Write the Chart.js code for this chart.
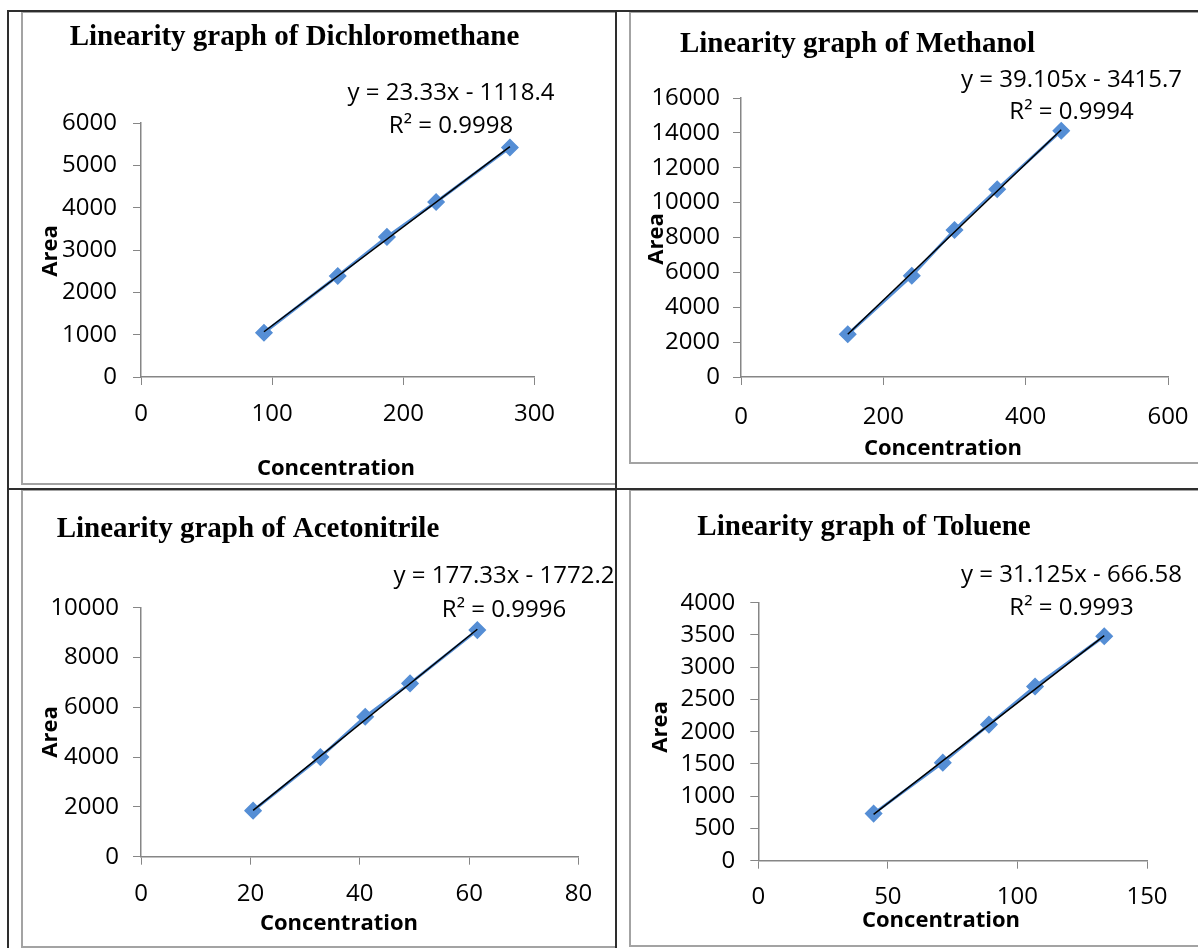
<!DOCTYPE html>
<html><head><meta charset="utf-8">
<script src="https://cdn.jsdelivr.net/npm/chart.js@4.4.1/dist/chart.umd.min.js"></script>
<style>
html,body{margin:0;padding:0;background:#fff;}
body{width:1198px;height:948px;position:relative;overflow:hidden;}
canvas{position:absolute;}
.gb{position:absolute;border:2px solid #a3a3a3;box-sizing:border-box;}
.bl{position:absolute;background:#2e2e2e;}
</style></head><body>
<div class="gb" style="left:21px;top:11px;width:596px;height:474px"></div>
<div class="gb" style="left:629px;top:11px;width:600px;height:453px"></div>
<div class="gb" style="left:21px;top:489px;width:596px;height:459px"></div>
<div class="gb" style="left:629px;top:489px;width:600px;height:458px"></div>
<canvas id="c1" width="593" height="471" style="left:22px;top:12px"></canvas>
<canvas id="c2" width="620" height="451" style="left:630px;top:12px"></canvas>
<canvas id="c3" width="593" height="457" style="left:22px;top:490px"></canvas>
<canvas id="c4" width="620" height="456" style="left:630px;top:490px"></canvas>
<div class="bl" style="left:7px;top:10px;width:2px;height:938px"></div>
<div class="bl" style="left:7px;top:10px;width:1191px;height:2px"></div>
<div class="bl" style="left:615px;top:10px;width:2px;height:938px"></div>
<div class="bl" style="left:7px;top:488px;width:1191px;height:2px"></div>
<script>
// ---- data ----
const titles = ['Linearity graph of Dichloromethane','Linearity graph of Methanol','Linearity graph of Acetonitrile','Linearity graph of Toluene'];
const xAxisTitle = 'Concentration';
const yAxisTitle = 'Area';

const dcmConc = [93.75, 150, 187.5, 225, 281.25];
const dcmArea = [1045, 2385, 3310, 4135, 5420];
const meoConc = [150, 240, 300, 360, 450];
const meoArea = [2450, 5810, 8430, 10765, 14125];
const acnConc = [20.5, 32.8, 41, 49.2, 61.5];
const acnArea = [1850, 4000, 5620, 6960, 9100];
const tolConc = [44.5, 71.2, 89, 106.8, 133.5];
const tolArea = [730, 1520, 2110, 2700, 3480];

const slopes = [23.33, 39.105, 177.33, 31.125];
const intercepts = [-1118.4, -3415.7, -1772.2, -666.58];
const equations = ['y = 23.33x - 1118.4','y = 39.105x - 3415.7','y = 177.33x - 1772.2','y = 31.125x - 666.58'];
const r2Labels = ['R\u00b2 = 0.9998','R\u00b2 = 0.9994','R\u00b2 = 0.9996','R\u00b2 = 0.9993'];

const xMax = [300, 600, 80, 150];
const xStep = [100, 200, 20, 50];
const yMax = [6000, 16000, 10000, 4000];
const yStep = [1000, 2000, 2000, 500];

// ---- layout (page pixel positions) ----
const YW = 105, XH = 60;
const panels = [
  {id:'c1', ox:22, oy:12, area:{l:141, r:534.5, t:123, b:377}, w:593, h:471, xPad:14.6, yPad:16,
   title:[294.5,45], eq:[451,100], r2y:133, xt:[336,475], yt:[57,251]},
  {id:'c2', ox:630, oy:12, area:{l:741, r:1168, t:98, b:377}, w:620, h:451, xPad:17.6, yPad:13,
   title:[857.5,52], eq:[1071.5,87], r2y:119, xt:[943,455], yt:[663,239]},
  {id:'c3', ox:22, oy:490, area:{l:141, r:578.5, t:607.7, b:856.7}, w:593, h:457, xPad:14.6, yPad:14,
   title:[248,537], eq:[504,583], r2y:617, xt:[339,930], yt:[57,732]},
  {id:'c4', ox:630, oy:490, area:{l:758.3, r:1147, t:602.7, b:860.7}, w:620, h:456, xPad:13.9, yPad:15,
   title:[864,535], eq:[1071.5,582], r2y:615, xt:[941,927], yt:[667,727]}
];

const concs = [dcmConc, meoConc, acnConc, tolConc];
const areas = [dcmArea, meoArea, acnArea, tolArea];

const BLUE = '#558ED5';
const AXIS = '#868686';
const TICK_FONT = {family:'"Open Sans"', size:24};

const textPlugin = {
  id:'panelText',
  afterDraw(chart, args, o){
    const ctx = chart.ctx;
    ctx.save();
    ctx.fillStyle = '#000';
    ctx.textAlign = 'center';
    ctx.textBaseline = 'alphabetic';
    ctx.font = 'bold 29px "Liberation Serif"';
    ctx.fillText(o.title, o.title_x, o.title_y);
    ctx.font = '24px "Open Sans"';
    ctx.fillText(o.eq, o.eq_x, o.eq_y);
    ctx.fillText(o.r2, o.eq_x, o.r2_y);
    ctx.font = 'bold 22px "Open Sans"';
    ctx.fillText(o.xt, o.xt_x, o.xt_y);
    ctx.translate(o.yt_x, o.yt_y);
    ctx.rotate(-Math.PI/2);
    ctx.fillText(o.yt, 0, 0);
    ctx.restore();
  }
};

panels.forEach((p, i) => {
  const xs = concs[i], ys = areas[i];
  const x0 = xs[0], x1 = xs[xs.length-1];
  const pad = {
    left: p.area.l - p.ox - YW,
    top: p.area.t - p.oy,
    right: p.ox + p.w - p.area.r,
    bottom: p.oy + p.h - p.area.b - XH
  };
  new Chart(document.getElementById(p.id), {
    type:'scatter',
    data:{datasets:[
      {label:'Area', data: xs.map((x,k)=>({x:x, y:ys[k]})), showLine:true,
       borderColor:BLUE, borderWidth:3, pointStyle:'rectRot', pointRadius:8, pointHoverRadius:8,
       pointBackgroundColor:BLUE, pointBorderColor:BLUE, pointBorderWidth:1.5, order:2},
      {label:'Linear (Area)', data:[{x:x0, y:slopes[i]*x0+intercepts[i]},{x:x1, y:slopes[i]*x1+intercepts[i]}],
       showLine:true, borderColor:'#000', borderWidth:1.5, pointRadius:0, order:1}
    ]},
    options:{
      responsive:false, animation:false, devicePixelRatio:1,
      layout:{padding:pad},
      plugins:{legend:{display:false}, tooltip:{enabled:false},
        panelText:{
          title:titles[i], title_x:p.title[0]-p.ox, title_y:p.title[1]-p.oy,
          eq:equations[i], r2:r2Labels[i], eq_x:p.eq[0]-p.ox, eq_y:p.eq[1]-p.oy, r2_y:p.r2y-p.oy,
          xt:xAxisTitle, xt_x:p.xt[0]-p.ox, xt_y:p.xt[1]-p.oy,
          yt:yAxisTitle, yt_x:p.yt[0]-p.ox, yt_y:p.yt[1]-p.oy
        }},
      scales:{
        x:{type:'linear', min:0, max:xMax[i],
           afterFit:(s)=>{s.height=XH;},
           ticks:{stepSize:xStep[i], autoSkip:false, maxRotation:0, color:'#000', font:TICK_FONT, padding:p.xPad,
                  callback:(v)=>String(v)},
           grid:{drawOnChartArea:false, drawTicks:true, tickLength:8, color:AXIS, lineWidth:1},
           border:{display:true, color:AXIS, width:1.5}},
        y:{type:'linear', min:0, max:yMax[i],
           afterFit:(s)=>{s.width=YW;},
           ticks:{stepSize:yStep[i], autoSkip:false, color:'#000', font:TICK_FONT, padding:p.yPad,
                  callback:(v)=>String(v)},
           grid:{drawOnChartArea:false, drawTicks:true, tickLength:8, color:AXIS, lineWidth:1},
           border:{display:true, color:AXIS, width:1.5}}
      }
    },
    plugins:[textPlugin]
  });
});
</script>
</body></html>
